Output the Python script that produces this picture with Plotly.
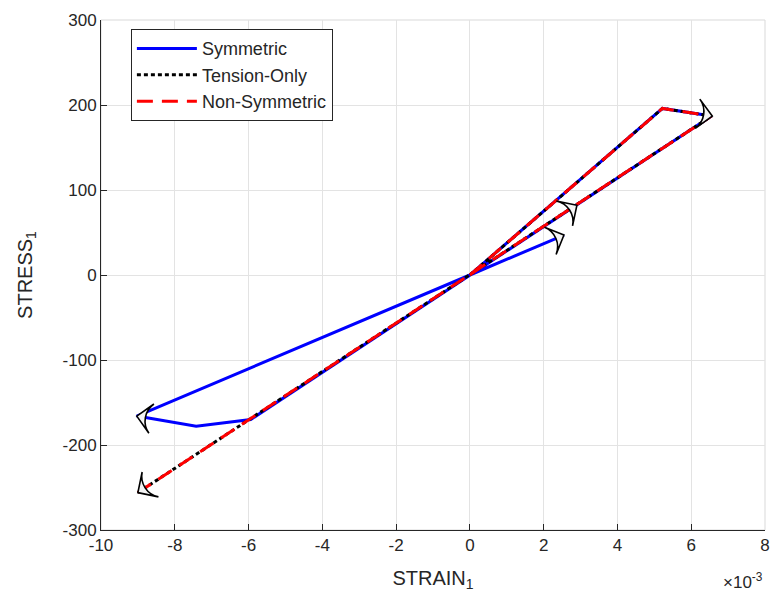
import plotly.graph_objects as go

# strain values in units of 1e-3
sym_x = [0, 4.6, 5.22, 6.55, 0, -5.94, -7.42, -9.03, 0, 2.55]
sym_y = [0, 172, 196, 187, 0, -170, -178, -166, 0, 47]

ten_x = [0, 4.6, 5.22, 6.55, 0, -9.0]
ten_y = [0, 172, 196, 187, 0, -256]

non_x = [0, 4.6, 5.22, 6.55, 0, -9.0]
non_y = [0, 172, 196, 187, 0, -256]

# direction arrows: tail point -> tip point
arrow_tail_x = [5.22, 0, 0, -7.42, 0]
arrow_tail_y = [196, 0, 0, -178, 0]
arrow_tip_x = [6.57, 2.9, 2.55, -9.03, -9.0]
arrow_tip_y = [187, 82, 47, -166, -256]

x_ticks = [-10, -8, -6, -4, -2, 0, 2, 4, 6, 8]
x_ticktext = ["-10", "-8", "-6", "-4", "-2", "0", "2", "4", "6", "8"]
y_ticks = [-300, -200, -100, 0, 100, 200, 300]
y_ticktext = ["-300", "-200", "-100", "0", "100", "200", "300"]

FONT = "Liberation Sans, Arial, Helvetica, sans-serif"
DARK = "#262626"

fig = go.Figure()
fig.add_trace(go.Scatter(x=sym_x, y=sym_y, mode="lines", name="Symmetric",
                         line=dict(color="#0000ff", width=3)))
fig.add_trace(go.Scatter(x=ten_x, y=ten_y, mode="lines", name="Tension-Only",
                         line=dict(color="#000000", width=3, dash="4px,3px")))
fig.add_trace(go.Scatter(x=non_x, y=non_y, mode="lines", name="Non-Symmetric",
                         line=dict(color="#ff0000", width=3, dash="16px,9px")))

for tx, ty, hx, hy in zip(arrow_tail_x, arrow_tail_y, arrow_tip_x, arrow_tip_y):
    fig.add_trace(go.Scatter(
        x=[tx, hx], y=[ty, hy], mode="markers", showlegend=False, hoverinfo="skip",
        marker=dict(symbol="arrow-wide", angleref="previous", size=[0, 21],
                    opacity=[0, 1], color="#f4f4f4",
                    line=dict(color="black", width=1.6))))

fig.update_layout(
    width=781, height=603,
    margin=dict(l=101, r=11, t=15, b=73),
    paper_bgcolor="white", plot_bgcolor="white",
    font=dict(family=FONT, color=DARK, size=17),
    showlegend=True,
    legend=dict(x=0.045, y=0.982, xanchor="left", yanchor="top",
                bgcolor="white", bordercolor=DARK, borderwidth=1,
                font=dict(size=18, color=DARK), itemwidth=60,
                tracegroupgap=0),
    shapes=[dict(type="rect", xref="paper", yref="paper", x0=0, x1=1, y0=0, y1=1,
                 line=dict(color="#d9d9d9", width=1), layer="below")],
    annotations=[dict(xref="paper", yref="paper", x=1.0, y=-0.075,
                      xanchor="right", yanchor="top", showarrow=False,
                      text="\u00d710<sup>-3</sup>",
                      font=dict(size=17, color=DARK, family=FONT))],
)
fig.update_xaxes(range=[-10, 8], tickvals=x_ticks, ticktext=x_ticktext,
                 showgrid=True, gridcolor="#e3e3e3", gridwidth=1, zeroline=False,
                 showline=True, linecolor=DARK, linewidth=1,
                 ticks="inside", ticklen=6, tickcolor=DARK,
                 tickfont=dict(size=17, color=DARK),
                 title=dict(text="STRAIN<sub>1</sub>", font=dict(size=20, color=DARK),
                            standoff=16))
fig.update_yaxes(range=[-300, 300], tickvals=y_ticks, ticktext=y_ticktext,
                 showgrid=True, gridcolor="#e3e3e3", gridwidth=1, zeroline=False,
                 showline=True, linecolor=DARK, linewidth=1,
                 ticks="inside", ticklen=6, tickcolor=DARK,
                 tickfont=dict(size=17, color=DARK),
                 title=dict(text="STRESS<sub>1</sub>", font=dict(size=20, color=DARK),
                            standoff=24))

fig.write_html("out.html")
